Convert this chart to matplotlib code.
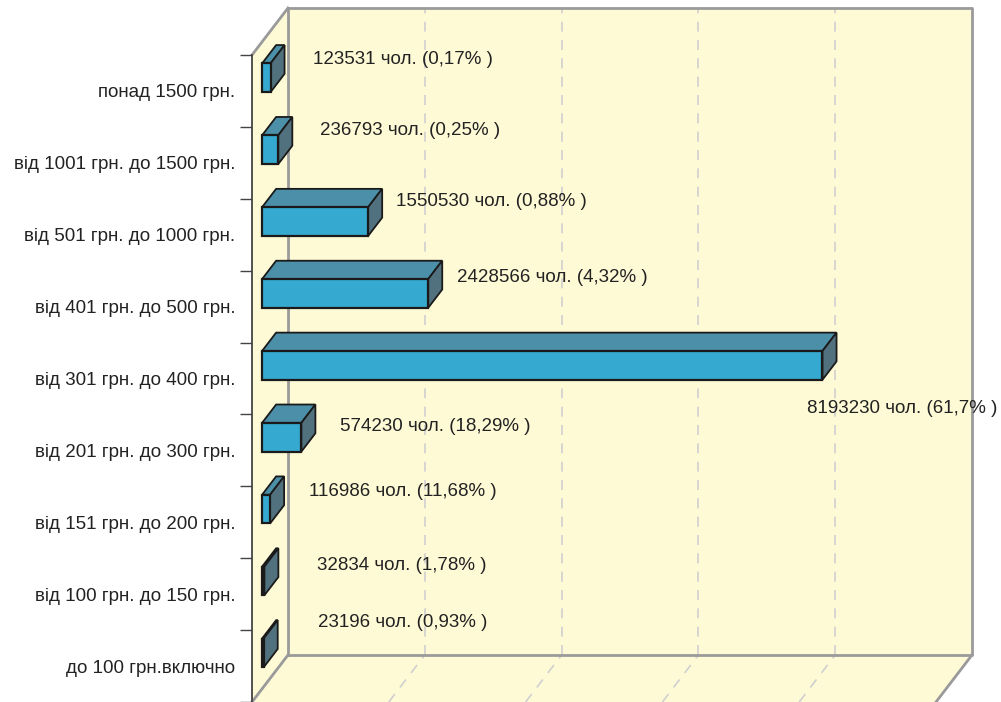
import matplotlib
matplotlib.use("Agg")
import matplotlib.pyplot as plt
from matplotlib.patches import Polygon
from matplotlib import font_manager

# ---------------- data ----------------
categories = [
    "понад 1500 грн.",
    "від 1001 грн. до 1500 грн.",
    "від 501 грн. до 1000 грн.",
    "від 401 грн. до 500 грн.",
    "від 301 грн. до 400 грн.",
    "від 201 грн. до 300 грн.",
    "від 151 грн. до 200 грн.",
    "від 100 грн. до 150 грн.",
    "до 100 грн.включно",
]
people = [123531, 236793, 1550530, 2428566, 8193230, 574230, 116986, 32834, 23196]
shares = ["0,17", "0,25", "0,88", "4,32", "61,7", "18,29", "11,68", "1,78", "0,93"]
x_ticks = [0, 2_000_000, 4_000_000, 6_000_000, 8_000_000, 10_000_000]

# label placement offsets (pixels) relative to the back-right end of each bar
label_dx = [28, 28, 14, 15, -30, 25, 25, 39, 40]
label_dy = [0, -1, -2, 2, 61, 8, 1, 3, -12]

# ---------------- style ----------------
avail = {f.name for f in font_manager.fontManager.ttflist}
FONT = "Liberation Sans Narrow" if "Liberation Sans Narrow" in avail else "Liberation Sans"
plt.rcParams["font.family"] = [FONT, "DejaVu Sans"]

W, H, DPI = 1001, 702, 100
WALL = "#fffad6"
EDGE_GRAY = "#9a9a9a"
GRID = "#cfcfcf"
FRONT = "#36a9d1"
TOP = "#4b8fa9"
SIDE = "#52717f"
TXT = "#222222"

fig = plt.figure(figsize=(W / DPI, H / DPI), dpi=DPI)
# axes = front plane of the 3D box
ax = fig.add_axes([252 / W, 0, 684 / W, 647 / H])
ax.set_xlim(x_ticks[0], x_ticks[-1])
n = len(categories)
ax.set_ylim(-0.5, n - 0.5)
ax.patch.set_alpha(0)

# depth offset (36 px right, 47 px up) in data units
DX = (x_ticks[-1] - x_ticks[0]) * 36 / 684
DY = n * 47 / 647


def P(x, y, d):
    return (x + d * DX, y + d * DY)


def poly(pts, fc, ec="none", lw=0, z=1):
    p = Polygon(pts, closed=True, facecolor=fc, edgecolor=ec, linewidth=lw,
                zorder=z, clip_on=False, joinstyle="miter")
    ax.add_patch(p)


x0, x1 = x_ticks[0], x_ticks[-1]
yb, yt = -0.5, n - 0.5

# walls
poly([P(x0, yb, 1), P(x1, yb, 1), P(x1, yt, 1), P(x0, yt, 1)], WALL, z=0)
poly([P(x0, yb, 0), P(x0, yt, 0), P(x0, yt, 1), P(x0, yb, 1)], WALL, z=0)
poly([P(x0, yb, 0), P(x1, yb, 0), P(x1, yb, 1), P(x0, yb, 1)], WALL, z=0)

# grid lines (back wall and floor)
for xv in x_ticks[1:-1]:
    ax.plot(*zip(P(xv, yb, 1), P(xv, yt, 1)), color=GRID, lw=1.2,
            dashes=(6, 5), zorder=0.5, clip_on=False)
    ax.plot(*zip(P(xv, yb, 0), P(xv, yb, 1)), color=GRID, lw=1.2,
            dashes=(6, 5), zorder=0.5, clip_on=False)

# wall edges
edge_kw = dict(color=EDGE_GRAY, lw=2, zorder=0.8, clip_on=False, solid_capstyle="projecting")
ax.plot(*zip(P(x0, yb, 1), P(x1, yb, 1), P(x1, yt, 1), P(x0, yt, 1), P(x0, yb, 1)), **edge_kw)
ax.plot(*zip(P(x0, yt, 0), P(x0, yt, 1)), **edge_kw)
ax.plot(*zip(P(x0, yb, 0), P(x0, yb, 1)), **edge_kw)
ax.plot(*zip(P(x1, yb, 0), P(x1, yb, 1)), **edge_kw)

# bars
d0, d1 = 0.28, 0.67
hh = 0.2
for i, (cat, v) in enumerate(zip(categories, people)):
    y = n - 1 - i
    ya, yc = y - hh, y + hh
    z = 2 + i * 0.01
    poly([P(0, yc, d0), P(v, yc, d0), P(v, yc, d1), P(0, yc, d1)], TOP, "#1a1a1a", 1.3, z)
    poly([P(v, ya, d0), P(v, ya, d1), P(v, yc, d1), P(v, yc, d0)], SIDE, "#1a1a1a", 1.3, z)
    poly([P(0, ya, d0), P(v, ya, d0), P(v, yc, d0), P(0, yc, d0)], FRONT, "#1a1a1a", 1.6, z + 0.001)
    ax.annotate(f"{v} чол. ({shares[i]}% )", xy=P(v, y, d1), xytext=(label_dx[i], -label_dy[i]),
                textcoords="offset pixels", ha="left", va="center", fontsize=13.5,
                color=TXT, zorder=5, annotation_clip=False)

# left axis (front edge of the side wall)
for s in ["top", "right", "bottom"]:
    ax.spines[s].set_visible(False)
ax.spines["left"].set_color("#444444")
ax.spines["left"].set_linewidth(1.3)
ax.spines["left"].set_zorder(3)
ax.set_xticks([])
ax.set_yticks(range(n))
ax.set_yticklabels(categories[::-1], fontsize=13.5, color=TXT)
ax.set_yticks([k - 0.5 for k in range(n + 1)], minor=True)
ax.tick_params(axis="y", which="major", length=0, pad=12)
ax.tick_params(axis="y", which="minor", length=8.6, width=1, color="#444444", direction="out")

fig.savefig("out.png", dpi=DPI, facecolor="white")
